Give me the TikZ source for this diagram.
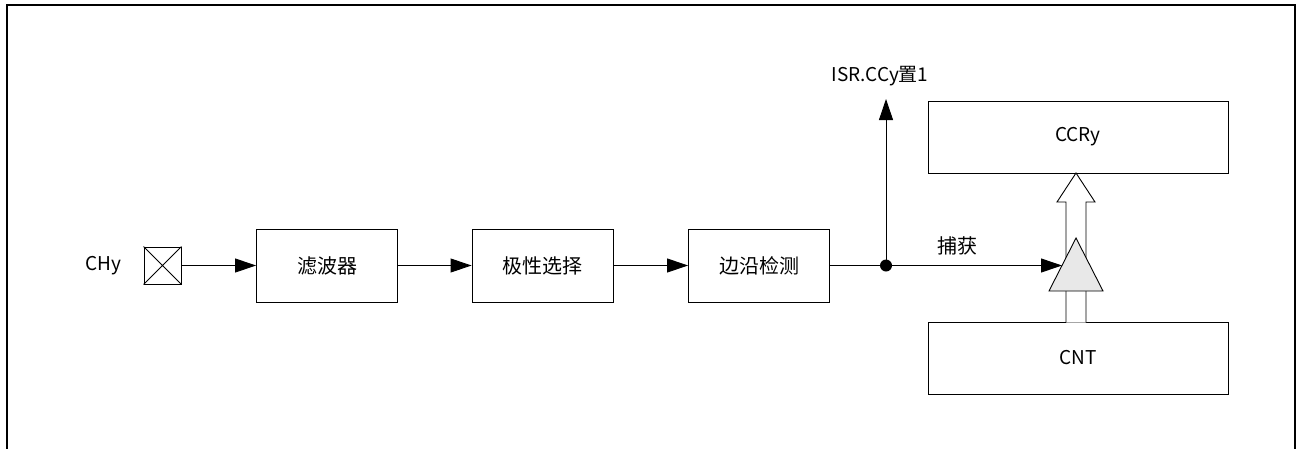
\documentclass[tikz,border=0pt]{standalone}
\usepackage{fontspec}
\setmainfont{Noto Sans CJK SC}
\usetikzlibrary{arrows.meta}
\begin{document}
\begin{tikzpicture}[x=1pt,y=-1pt,
  blk/.style={draw, line width=0.9pt, minimum width=141pt, minimum height=73pt, font=\fontsize{20}{24}\selectfont, inner sep=0pt},
  wide/.style={draw, line width=0.9pt, minimum width=300pt, minimum height=72pt, font=\fontsize{19}{23}\selectfont, inner sep=0pt},
  lbl/.style={font=\fontsize{19}{23}\selectfont, inner sep=0pt},
  ar/.style={line width=0.9pt, -{Triangle[length=21pt,width=14pt]}},
  ln/.style={line width=0.9pt}]
\useasboundingbox (0,0) rectangle (1302,448);
\draw[line width=1.5pt] (7,460) -- (7,5) -- (1295,5) -- (1295,460);
\node[lbl] (chy) at (103,266) {CHy};
\node[draw, line width=0.9pt, minimum size=37pt, inner sep=0pt] (x) at (162.5,265.5) {};
\draw[ln] (x.north west) -- (x.south east) (x.north east) -- (x.south west);
\node[blk] (f) at (327,265.5) {滤波器};
\node[blk] (p) at (542.5,265.5) {极性选择};
\node[blk] (e) at (759,265.5) {边沿检测};
\node[wide] (ccr) at (1078,137) {CCRy};
\node[wide] (cnt) at (1078,358) {CNT};
\draw[ar] (x.east) -- (f.west);
\draw[ar] (f.east) -- (p.west);
\draw[ar] (p.east) -- (e.west);
\coordinate (dot) at (886,265.5);
\coordinate (isr) at (886,99);
\node[lbl] (isrl) at (880,76) {ISR.CCy置1};
\draw[ln] (e.east) -- (dot);
\draw[ar] (dot) -- (isr);
\fill (dot) circle (6pt);
% hollow arrow
\draw[ln, fill=white] (1066,322.5) -- (1066,202) -- (1057,202) -- (1076,173) -- (1095,202) -- (1086,202) -- (1086,322.5);
% triangle
\draw[ln, fill=black!9] (1076,238) -- (1103,291) -- (1049,291) -- cycle;
\coordinate (tri) at (1062,265.5);
\draw[ar] (dot) -- (tri);
\node[lbl, font=\fontsize{20}{24}\selectfont] (cap) at (957,246) {捕获};
\end{tikzpicture}
\end{document}
